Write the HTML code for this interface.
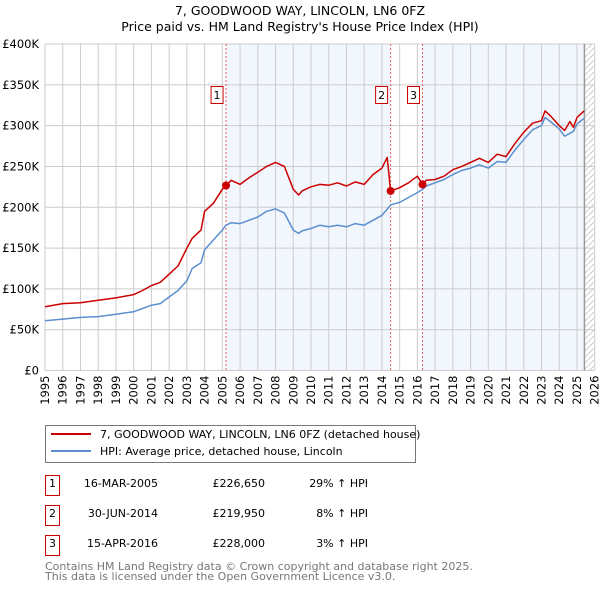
<!DOCTYPE html>
<html><head><meta charset="utf-8"><style>
body{margin:0;background:#fff;font-family:"Liberation Sans","DejaVu Sans",sans-serif;}
svg text{font-family:"DejaVu Sans","Liberation Sans",sans-serif;}
</style></head><body>
<svg id="chart" width="600" height="590" viewBox="0 0 600 590" xmlns="http://www.w3.org/2000/svg">
<text x="300" y="15" text-anchor="middle" font-size="12.5" fill="#000">7, GOODWOOD WAY, LINCOLN, LN6 0FZ</text>
<text x="300" y="31" text-anchor="middle" font-size="12.5" fill="#000">Price paid vs. HM Land Registry's House Price Index (HPI)</text>
<defs><pattern id="hatch" width="6" height="6" patternUnits="userSpaceOnUse"><path d="M0,6 L6,0" stroke="#ccc" stroke-width="1"/></pattern></defs>
<g id="plot"></g>
<g>
<rect x="45.5" y="425.5" width="370" height="37" fill="#fff" stroke="#777"/>
<line x1="51" y1="434" x2="91" y2="434" stroke="#cc0000" stroke-width="2"/>
<text x="100" y="438" font-size="11">7, GOODWOOD WAY, LINCOLN, LN6 0FZ (detached house)</text>
<line x1="51" y1="451" x2="91" y2="451" stroke="#5b8fd0" stroke-width="2"/>
<text x="100" y="455" font-size="11">HPI: Average price, detached house, Lincoln</text>
</g>
<g font-size="11">
<rect x="45.5" y="475.5" width="14" height="20" fill="#fff" stroke="#cc0000"/><text x="52.5" y="487" text-anchor="middle">1</text>
<text x="158" y="487" text-anchor="end">16-MAR-2005</text><text x="265" y="487" text-anchor="end">£226,650</text><text x="368" y="487" text-anchor="end">29% ↑ HPI</text>
<rect x="45.5" y="505.5" width="14" height="20" fill="#fff" stroke="#cc0000"/><text x="52.5" y="517" text-anchor="middle">2</text>
<text x="158" y="517" text-anchor="end">30-JUN-2014</text><text x="265" y="517" text-anchor="end">£219,950</text><text x="368" y="517" text-anchor="end">8% ↑ HPI</text>
<rect x="45.5" y="535.5" width="14" height="20" fill="#fff" stroke="#cc0000"/><text x="52.5" y="547" text-anchor="middle">3</text>
<text x="158" y="547" text-anchor="end">15-APR-2016</text><text x="265" y="547" text-anchor="end">£228,000</text><text x="368" y="547" text-anchor="end">3% ↑ HPI</text>
</g>
<text x="45" y="570" font-size="11" fill="#777">Contains HM Land Registry data © Crown copyright and database right 2025.</text>
<text x="45" y="580" font-size="11" fill="#777">This data is licensed under the Open Government Licence v3.0.</text>
</svg>
<script>
const hpiYears=[1995,1996,1997,1998,1999,2000,2000.5,2001,2001.5,2002,2002.5,2003,2003.3,2003.8,2004,2004.5,2005,2005.2,2005.5,2006,2006.5,2007,2007.5,2008,2008.5,2009,2009.3,2009.5,2010,2010.5,2011,2011.5,2012,2012.5,2013,2013.5,2014,2014.5,2015,2015.5,2016,2016.3,2016.5,2017,2017.5,2018,2018.5,2019,2019.5,2020,2020.5,2021,2021.5,2022,2022.5,2023,2023.2,2023.5,2024,2024.3,2024.8,2025,2025.4];
const hpiValues=[61,63,65,66,69,72,76,80,82,90,98,110,125,132,148,160,172,178,181,180,184,188,195,198,193,172,168,171,174,178,176,178,176,180,178,184,190,203,206,212,218,222,226,230,234,240,245,248,252,248,256,255,270,283,295,300,310,305,296,287,293,302,309];
const propYears=[1995,1996,1997,1998,1999,2000,2000.5,2001,2001.5,2002,2002.5,2003,2003.3,2003.8,2004,2004.5,2005,2005.21,2005.5,2006,2006.5,2007,2007.5,2008,2008.5,2009,2009.3,2009.5,2010,2010.5,2011,2011.5,2012,2012.5,2013,2013.5,2014,2014.3,2014.49,2015,2015.5,2016,2016.29,2016.5,2017,2017.5,2018,2018.5,2019,2019.5,2020,2020.5,2021,2021.5,2022,2022.5,2023,2023.2,2023.5,2024,2024.3,2024.6,2024.8,2025,2025.4];
const propValues=[78,82,83,86,89,93,98,104,108,118,128,150,162,172,195,205,222,226.65,233,228,236,243,250,255,250,222,215,220,225,228,227,230,226,231,228,240,248,261,219.95,224,230,238,228,233,234,238,246,250,255,260,255,265,262,278,292,303,306,318,312,300,294,305,298,310,318];
const saleYears=[2005.21,2014.49,2016.29];
const saleValues=[226.65,219.95,228];
const saleLabels=["1","2","3"];
const yTicks=[0,50,100,150,200,250,300,350,400];
const xTicks=[1995,1996,1997,1998,1999,2000,2001,2002,2003,2004,2005,2006,2007,2008,2009,2010,2011,2012,2013,2014,2015,2016,2017,2018,2019,2020,2021,2022,2023,2024,2025,2026];
const L=45,R=594.7,T=44,B=370.5,dataEnd=2025.42;
const X=y=>L+(y-1995)/(2026-1995)*(R-L);
const Y=v=>B-v/400*(B-T);
const NS="http://www.w3.org/2000/svg",g=document.getElementById('plot');
function mk(t,a){const e=document.createElementNS(NS,t);for(const k in a)e.setAttribute(k,a[k]);g.appendChild(e);return e;}
let e;
e=mk('rect',{x:L,y:T,width:R-L,height:B-T,fill:'#fff'});


e=mk('rect',{x:X(saleYears[0]),y:T,width:X(saleYears[1])-X(saleYears[0]),height:B-T,fill:'#eef3fc',opacity:0.75});


e=mk('rect',{x:X(saleYears[2]),y:T,width:X(dataEnd)-X(saleYears[2]),height:B-T,fill:'#eef3fc',opacity:0.75});


e=mk('rect',{x:X(dataEnd),y:T,width:R-X(dataEnd),height:B-T,fill:'url(#hatch)'});


yTicks.forEach(v=>{
 e=mk('line',{x1:L,x2:R,y1:Y(v),y2:Y(v),stroke:'#ccc','stroke-width':1});
 
 
 e=mk('text',{x:L-6,y:Y(v)+4,'text-anchor':'end','font-size':11.5});
 e.textContent=v===0?'£0':'£'+v+'K';
 
 
});
xTicks.forEach(y=>{
 e=mk('line',{x1:X(y),x2:X(y),y1:T,y2:B,stroke:'#ccc','stroke-width':1});
 
 
 e=mk('text',{x:0,y:0,'text-anchor':'end','font-size':11.5,transform:`translate(${X(y)+4},${B+5}) rotate(-90)`});
 e.textContent=y;
 
 
});
e=mk('line',{x1:X(dataEnd),x2:X(dataEnd),y1:T,y2:B,stroke:'#999','stroke-width':1.5});


saleYears.forEach((s,i)=>{
 e=mk('line',{x1:X(s),x2:X(s),y1:T,y2:B,stroke:'#e06060','stroke-width':1,'stroke-dasharray':'2,2'});
 
 
});
function path(xs,vs,c,name){
 const d=xs.map((x,i)=>(i?'L':'M')+X(x).toFixed(1)+','+Y(vs[i]).toFixed(1)).join('');
 e=mk('path',{d:d,fill:'none',stroke:c,'stroke-width':1.5,'stroke-linejoin':'round'});
 
 
}
path(hpiYears,hpiValues,'#5b8fd0','hpi-line');
path(propYears,propValues,'#cc0000','property-price-line');
saleYears.forEach((s,i)=>{
 e=mk('circle',{cx:X(s),cy:Y(saleValues[i]),r:4,fill:'#cc0000'});
 
 
 const bx=X(s)-15;
 e=mk('rect',{x:bx,y:86.5,width:12,height:17,fill:'#fff',stroke:'#cc0000'});
 
 
 e=mk('text',{x:bx+6,y:99,'text-anchor':'middle','font-size':11});
 e.textContent=saleLabels[i];
 
 
});
</script>
</body></html>
